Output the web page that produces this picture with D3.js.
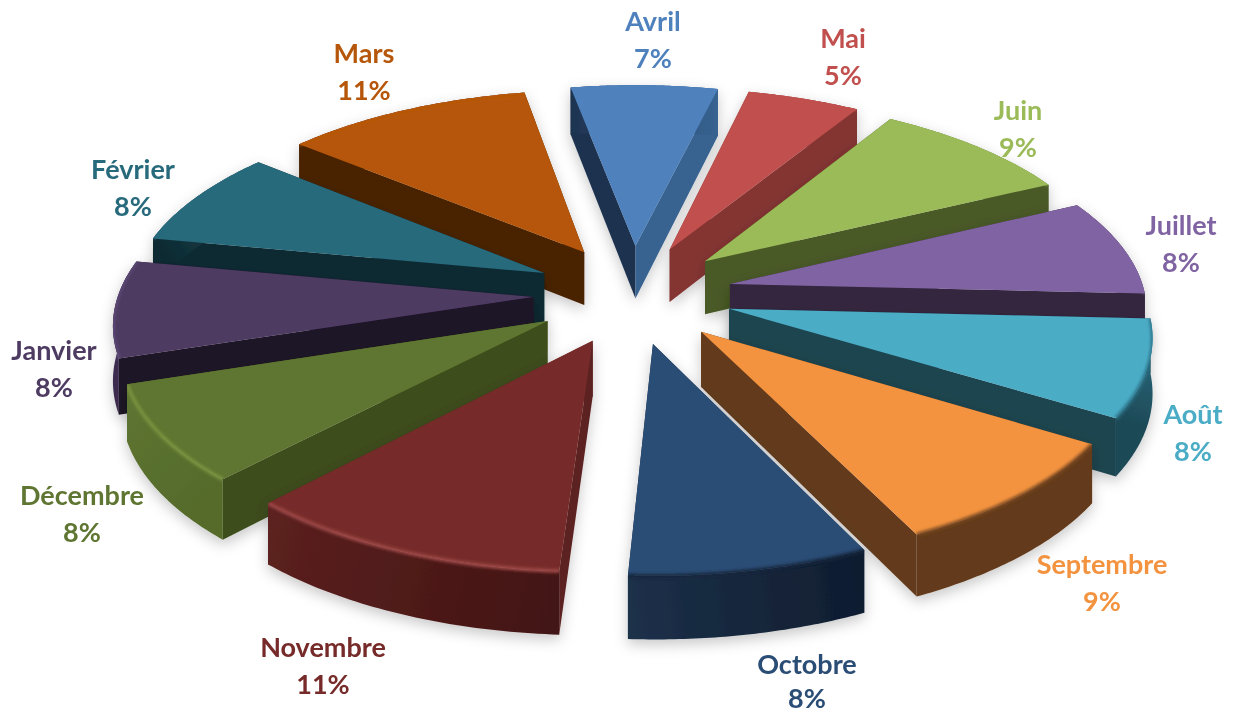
<!DOCTYPE html>
<html>
<head>
<meta charset="utf-8">
<script src="https://cdn.jsdelivr.net/npm/d3@7"></script>
<style>
  html, body { margin: 0; background: #fff; }
  text { font-family: Lato, "Open Sans", sans-serif; font-weight: 700; font-size: 27px; text-anchor: middle; }
</style>
</head>
<body>
<svg width="1234" height="714"></svg>
<script>
// data (printed rounded, as in the labels)
const months = ['Avril', 'Mai', 'Juin', 'Juillet', 'Août', 'Septembre', 'Octobre', 'Novembre', 'Décembre', 'Janvier', 'Février', 'Mars'];
const shares = [6.5, 5, 9, 8, 8, 9, 8, 11, 8, 8, 8, 11];

// colours
const topColors = ['#4f81bd', '#c0504d', '#9bbb59', '#8064a2', '#4bacc6', '#f39340', '#2c4d75', '#772c2a', '#5f7530', '#4d3b62', '#276a7c', '#b65708'];
const startWall = ['#1e3350', '#843533', '#4a5a28', '#34263f', '#1d4550', '#633a1a', '#1a2d47', '#5c2120', '#3e4d1a', '#1f1228', '#0f2b33', '#4a2200'];
const endWall = ['#376391', '#843533', '#4a5a28', '#34263f', '#1d4550', '#633a1a', '#1a2d47', '#5c2120', '#566b2c', '#1f1228', '#0f2b33', '#4a2200'];
const arcFrom = ['#1e3350', '#843533', '#4a5a28', '#34263f', '#2c7186', '#633a1a', '#0f1c2e', '#431413', '#566b2c', '#3c2c50', '#0f2b33', '#4a2200'];
const arcTo = ['#376391', '#843533', '#4a5a28', '#34263f', '#1e4a57', '#633a1a', '#1c3049', '#5c2120', '#5e7531', '#241830', '#1c4a57', '#4a2200'];
const bevels = ['#4f81bd', '#c0504d', '#9bbb59', '#8064a2', '#2c7186', '#7a4a20', '#14253c', '#a04a48', '#7b9440', '#5f4a78', '#276a7c', '#b65708'];

// label centres, first line baseline
const labelPos = [[653, 31], [843, 48], [1018, 120], [1181, 235], [1193, 424], [1102, 574], [807, 674], [323, 657], [82, 505], [54, 360], [133, 179], [364, 63]];
const lineGap = [37, 37, 37, 37, 37, 37, 34, 37, 37, 37, 37, 37];

const svg = d3.select('svg');
const defs = svg.append('defs');

const soft = defs.append('filter').attr('id', 'soft')
  .attr('x', '-20%').attr('y', '-20%').attr('width', '140%').attr('height', '140%');
soft.append('feGaussianBlur').attr('stdDeviation', 0.5);

const blur = defs.append('filter').attr('id', 'bevel')
  .attr('x', '-20%').attr('y', '-20%').attr('width', '140%').attr('height', '140%');
blur.append('feGaussianBlur').attr('stdDeviation', 1.6);

const shadow = defs.append('filter').attr('id', 'shadow')
  .attr('x', '-30%').attr('y', '-30%').attr('width', '160%').attr('height', '160%');
shadow.append('feDropShadow').attr('dx', 0).attr('dy', 5).attr('stdDeviation', 7)
  .attr('flood-color', '#000').attr('flood-opacity', 0.22);

// flat pie seen from above with some perspective
const cx = 633, cy = 294;
const radius = 415, explode = 0.24, explodeBack = 1.08, tilt = 0.46, persp = 0.12, depth = 54;

const radial = d3.scaleLinear().domain([0, 1]).range([0, radius]);

const project = (u, v, z) => {
  const s = 1 / (1 - persp * v);
  return [cx + radial(u) * s, cy + radial(v) * tilt * s + z * depth * s];
};

const rotation = -10.3 * Math.PI / 180;
const pie = d3.pie().sort(null).value(d => d)
  .startAngle(rotation).endAngle(rotation + 2 * Math.PI);
const arcs = pie(shares).map((d, i) => ({ ...d, i, mid: (d.startAngle + d.endAngle) / 2 }));

const line = d3.line();

// point of a slice: angle a, distance r from the slice's own apex
const point = (d, a, r, z) => {
  const u = Math.sin(d.mid) * explode + Math.sin(a) * r;
  const v = -Math.cos(d.mid) * explode * explodeBack - Math.cos(a) * r;
  return project(u, v, z);
};

const arcAngles = d => d3.range(0, 49).map(t => d.startAngle + (d.endAngle - d.startAngle) * t / 48);

const root = svg.append('g').attr('filter', 'url(#soft)');

// back slices first, the front ones cover them
const order = arcs.slice().sort((a, b) => Math.cos(b.mid) - Math.cos(a.mid));

order.forEach(d => {
  const g = root.append('g').attr('filter', 'url(#shadow)');
  const i = d.i;
  const angles = arcAngles(d);

  const wall = (a, color) => g.append('path')
    .attr('d', line([point(d, a, 0, 0), point(d, a, 1, 0), point(d, a, 1, 1), point(d, a, 0, 1)]) + 'Z')
    .attr('fill', color);

  // the wall lying further back goes first
  const walls = [[d.startAngle, startWall[i]], [d.endAngle, endWall[i]]];
  walls.sort((a, b) => Math.cos(b[0]) - Math.cos(a[0]));
  walls.forEach(w => wall(w[0], w[1]));

  const rim = angles.map(a => point(d, a, 1, 0));
  const foot = angles.map(a => point(d, a, 1, 1)).reverse();
  const topPath = line([point(d, d.mid, 0, 0), ...rim]) + 'Z';
  const arcPath = line([...rim, ...foot]) + 'Z';

  const grad = defs.append('linearGradient').attr('id', 'arc' + i)
    .attr('gradientUnits', 'userSpaceOnUse')
    .attr('x1', rim[0][0]).attr('y1', rim[0][1])
    .attr('x2', rim[48][0]).attr('y2', rim[48][1]);
  grad.append('stop').attr('offset', 0).attr('stop-color', arcFrom[i]);
  grad.append('stop').attr('offset', 1).attr('stop-color', arcTo[i]);

  g.append('path').attr('d', arcPath).attr('fill', `url(#arc${i})`);
  g.append('path').attr('d', topPath).attr('fill', topColors[i]);

  // soft edge along the rim, kept inside the slice
  const clip = defs.append('clipPath').attr('id', 'clip' + i);
  clip.append('path').attr('d', topPath);
  clip.append('path').attr('d', arcPath);

  g.append('g').attr('clip-path', `url(#clip${i})`)
    .append('path')
    .attr('d', line(rim))
    .attr('fill', 'none')
    .attr('stroke', bevels[i])
    .attr('stroke-width', 3.5)
    .attr('filter', 'url(#bevel)');
});

const labels = svg.append('g').attr('filter', 'url(#soft)');
arcs.forEach(d => {
  const [x, y] = labelPos[d.i];
  const t = labels.append('text').attr('fill', topColors[d.i]);
  t.append('tspan').attr('x', x).attr('y', y).text(months[d.i]);
  t.append('tspan').attr('x', x).attr('y', y + lineGap[d.i]).text(Math.round(shares[d.i]) + '%');
});
</script>
</body>
</html>
